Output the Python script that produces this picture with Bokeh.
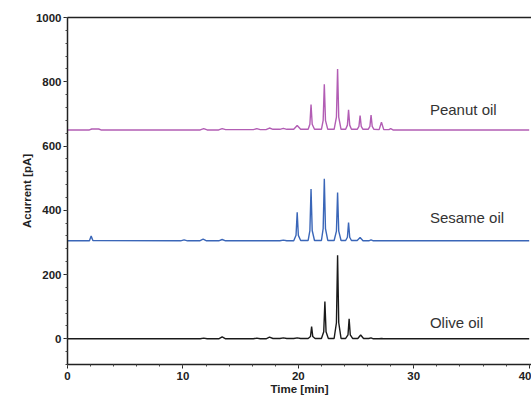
from bokeh.plotting import figure
from bokeh.models import Range1d, LinearAxis, FixedTicker, ColumnDataSource, SingleIntervalTicker
from bokeh.core.properties import value
from bokeh.embed import file_html
from bokeh.resources import INLINE

# ---- data ----
olive_time = [0, 11.5, 11.8, 12.1, 13.1, 13.4, 13.7, 16.1, 16.4, 16.7, 17.2, 17.5, 17.8,
              18.4, 18.7, 19.0, 19.6, 19.9, 20.2, 20.85, 21.05, 21.15, 21.25, 21.45,
              22.0, 22.2, 22.3, 22.4, 22.6, 23.1, 23.3, 23.4, 23.5, 23.7,
              24.1, 24.3, 24.4, 24.5, 24.7, 25.15, 25.4, 25.65, 26.1, 26.3, 26.5,
              27.0, 27.2, 27.4, 40]
olive_signal = [0, 0, 2, 0, 0, 6, 0, 0, 2, 0, 0, 5, 1,
                1, 3, 1, 1, 3, 1, 1, 7, 38, 7, 1,
                1, 22, 116, 22, 1, 1, 50, 260, 50, 1,
                1, 12, 62, 12, 1, 1, 12, 1, 1, 3, 0,
                0, 1, 0, 0]

sesame_time = [0, 1.9, 2.05, 2.2, 9.8, 10.1, 10.4, 11.45, 11.75, 12.05, 13.1, 13.4, 13.7,
               18.4, 18.7, 19.0, 19.6, 19.8, 19.9, 20.0, 20.2,
               20.85, 21.0, 21.1, 21.2, 21.4, 22.0, 22.15, 22.25, 22.35, 22.55,
               23.1, 23.3, 23.4, 23.5, 23.7, 24.1, 24.25, 24.35, 24.45, 24.6,
               25.1, 25.35, 25.6, 26.1, 26.3, 26.5, 40]
sesame_signal = [305, 305, 320, 306, 305, 308, 305, 305, 310, 305, 305, 309, 305,
                 305, 307, 305, 305, 322, 394, 322, 306,
                 306, 337, 466, 337, 306, 306, 343, 498, 343, 306,
                 306, 335, 455, 335, 306, 306, 316, 362, 316, 306,
                 306, 315, 305, 305, 308, 305, 305]

peanut_time = [0, 1.9, 2.1, 2.7, 2.9, 11.5, 11.8, 12.1, 13.1, 13.4, 13.7, 16.1, 16.4, 16.7,
               17.2, 17.5, 17.8, 18.4, 18.7, 19.0, 19.6, 19.9, 20.2,
               20.85, 21.0, 21.1, 21.2, 21.4, 22.0, 22.15, 22.25, 22.35, 22.55,
               23.1, 23.3, 23.4, 23.5, 23.7, 24.1, 24.25, 24.35, 24.45, 24.6,
               25.1, 25.25, 25.35, 25.45, 25.6, 26.05, 26.2, 26.3, 26.4, 26.55,
               27.0, 27.2, 27.4, 27.85, 28.0, 28.2, 40]
peanut_signal = [650, 650, 653, 653, 650, 650, 654, 650, 650, 654, 651, 651, 654, 651,
                 651, 656, 652, 652, 655, 652, 652, 664, 652,
                 652, 668, 729, 668, 652, 652, 680, 792, 680, 652,
                 652, 690, 840, 690, 652, 652, 665, 713, 665, 652,
                 652, 661, 695, 661, 652, 652, 661, 696, 661, 652,
                 651, 674, 651, 651, 654, 650, 650]

oil_names = ["Peanut oil", "Sesame oil", "Olive oil"]
label_time = [31.4, 31.4, 31.4]
label_signal = [713, 376, 51]
trace_colors = ["#b25db4", "#3a66b8", "#1a1a1a"]

p = figure(width=531, height=397, output_backend="svg", toolbar_location=None,
           x_range=Range1d(0, 40.2), y_range=Range1d(-80, 1000),
           min_border_left=67, min_border_right=0, min_border_top=17, min_border_bottom=10)
p.outline_line_color = None
p.grid.grid_line_color = None
p.background_fill_color = "white"
p.border_fill_color = "white"

series = [(peanut_time, peanut_signal), (sesame_time, sesame_signal), (olive_time, olive_signal)]
for (t, s), c in zip(series, trace_colors):
    p.line(t, s, line_color=c, line_width=1.4)

src = ColumnDataSource(dict(x=label_time, y=label_signal, text=oil_names))
p.text(x="x", y="y", text="text", source=src, text_font=value("Liberation Sans"),
       text_font_size="15px", text_color="#333333", text_baseline="middle", text_align="left")

for ax in (p.xaxis[0], p.yaxis[0]):
    ax.axis_line_color = "#222222"
    ax.axis_line_width = 1.5
    ax.major_tick_line_color = "#222222"
    ax.minor_tick_line_color = "#444444"
    ax.major_tick_out = 4
    ax.major_tick_in = 0
    ax.minor_tick_out = 2
    ax.minor_tick_in = 0
    ax.major_label_text_font = "Liberation Sans"
    ax.major_label_text_font_style = "bold"
    ax.major_label_text_font_size = "11.5px"
    ax.major_label_text_color = "#222222"
    ax.axis_label_text_font = "Liberation Sans"
    ax.axis_label_text_font_style = "bold"
    ax.axis_label_text_font_size = "11.5px"
    ax.axis_label_text_color = "#222222"

p.xaxis.ticker = SingleIntervalTicker(interval=10, num_minor_ticks=5)
p.yaxis.ticker = SingleIntervalTicker(interval=200, num_minor_ticks=5)
p.xaxis.axis_label = "Time [min]"
p.yaxis.axis_label = "Acurrent [pA]"
p.xaxis.major_label_standoff = 3
p.xaxis.axis_label_standoff = 0
p.yaxis.major_label_standoff = 2
p.yaxis.axis_label_standoff = 0

top = LinearAxis(ticker=FixedTicker(ticks=[]), axis_line_color="#222222", axis_line_width=1.5,
                 major_tick_line_color=None, minor_tick_line_color=None)
p.add_layout(top, "above")

open("out.html", "w").write(file_html(p, INLINE))
